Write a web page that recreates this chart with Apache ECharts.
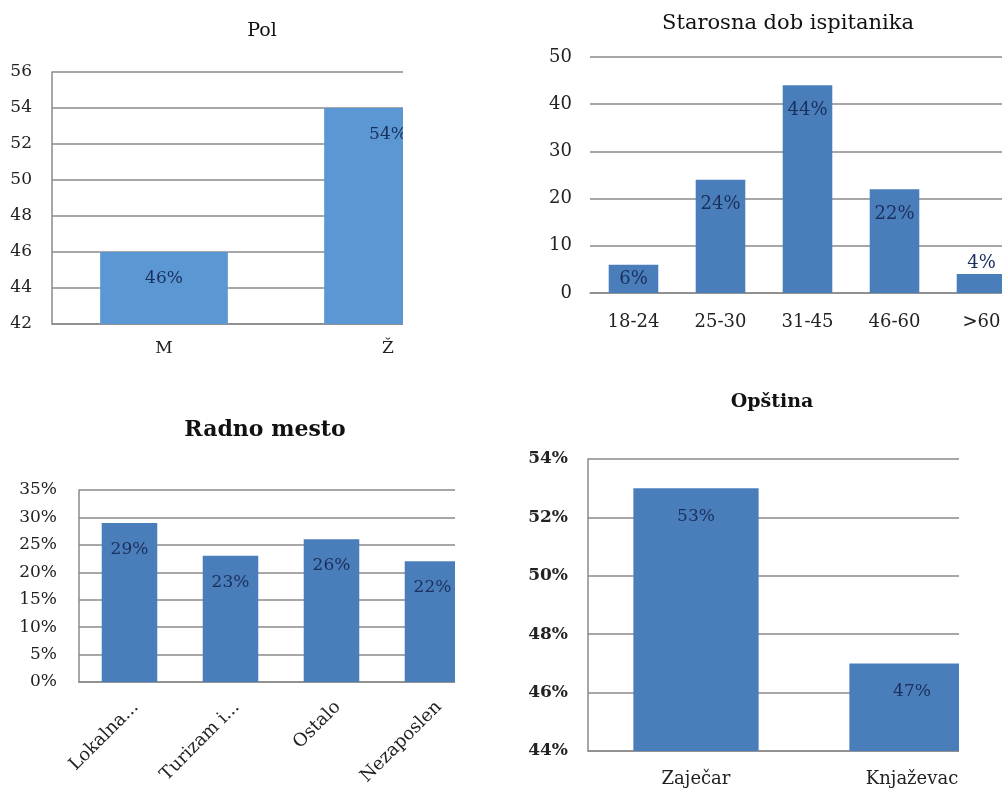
<!DOCTYPE html>
<html>
<head>
<meta charset="utf-8">
<script src="https://cdn.jsdelivr.net/npm/echarts@6/dist/echarts.min.js"></script>
<style>
  html, body { margin: 0; padding: 0; background: #fff; }
  body { width: 1002px; height: 789px; position: relative; overflow: hidden; }
  .panel { position: absolute; overflow: hidden; }
  .inner { position: absolute; left: 0; top: 0; }
</style>
</head>
<body>
<div class="panel" id="p1" style="left:0;top:0;width:403px;height:380px"><div class="inner" id="c1" style="width:520px;height:380px"></div></div>
<div class="panel" id="p2" style="left:500px;top:0;width:502px;height:380px"><div class="inner" id="c2" style="width:560px;height:380px"></div></div>
<div class="panel" id="p3" style="left:0;top:390px;width:455px;height:399px"><div class="inner" id="c3" style="width:520px;height:399px"></div></div>
<div class="panel" id="p4" style="left:500px;top:380px;width:459px;height:409px"><div class="inner" id="c4" style="width:560px;height:409px"></div></div>
<script>
// Pol
const polCategories = ['M', 'Ž'];
const polValues = [46, 54];

// Starosna dob ispitanika
const dobCategories = ['18-24', '25-30', '31-45', '46-60', '>60'];
const dobValues = [6, 24, 44, 22, 4];

// Radno mesto
const radnoCategories = ['Lokalna...', 'Turizam i...', 'Ostalo', 'Nezaposlen'];
const radnoValues = [29, 23, 26, 22];

// Opština
const opstinaCategories = ['Zaječar', 'Knjaževac'];
const opstinaValues = [53, 47];

const SERIF = '"DejaVu Serif", "Liberation Serif", serif';
const GRID_COLOR = '#8a8a8a';
const LABEL_COLOR = '#1b2f5c';

function barItems(values) {
  // short bars get their label centred or placed above the bar
  return values.map(v => {
    if (v < 5) return { value: v, label: { position: 'top', distance: 2 } };
    if (v < 10) return { value: v, label: { position: 'inside' } };
    return v;
  });
}

function makeChart(el, cfg) {
  const chart = echarts.init(document.getElementById(el), null, { renderer: 'canvas' });
  chart.setOption({
    animation: false,
    backgroundColor: '#fff',
    title: {
      text: cfg.title,
      left: cfg.titleX,
      top: cfg.titleY,
      textAlign: 'center',
      textStyle: { fontFamily: SERIF, fontSize: cfg.titleSize, fontWeight: cfg.titleWeight, color: '#111' }
    },
    grid: cfg.grid,
    xAxis: {
      type: 'category',
      data: cfg.categories,
      axisLine: { show: true, lineStyle: { color: GRID_COLOR, width: 1.5 } },
      axisTick: { show: false },
      axisLabel: Object.assign({
        fontFamily: SERIF, fontSize: cfg.xFontSize, color: '#222', margin: cfg.xMargin, interval: 0
      }, cfg.xLabelExtra || {})
    },
    yAxis: {
      type: 'value',
      min: cfg.min, max: cfg.max, interval: cfg.interval,
      axisLine: { show: cfg.yAxisLine, lineStyle: { color: GRID_COLOR, width: 1.5 } },
      axisTick: { show: false },
      splitLine: { show: true, lineStyle: { color: GRID_COLOR, width: 1.5 } },
      axisLabel: {
        fontFamily: SERIF, fontSize: cfg.yFontSize, fontWeight: cfg.yWeight || 'normal',
        color: '#222', margin: cfg.yMargin,
        formatter: cfg.yFormatter
      }
    },
    series: [{
      type: 'bar',
      data: barItems(cfg.values),
      barWidth: cfg.barWidth,
      itemStyle: { color: cfg.color },
      label: {
        show: true,
        position: 'insideTop',
        distance: cfg.labelDistance,
        formatter: '{c}%',
        fontFamily: SERIF,
        fontSize: cfg.labelSize,
        color: LABEL_COLOR
      }
    }]
  });
}

makeChart('c1', {
  title: 'Pol', titleX: 257, titleY: 17, titleSize: 19, titleWeight: 'normal',
  grid: { left: 52, top: 72, width: 448, height: 252 },
  categories: polCategories, values: polValues,
  min: 42, max: 56, interval: 2, yAxisLine: true,
  yFormatter: '{value}', yFontSize: 17, yMargin: 20, xFontSize: 17, xMargin: 16,
  barWidth: '57%', color: '#5b97d3', labelSize: 17, labelDistance: 18
});

makeChart('c2', {
  title: 'Starosna dob ispitanika', titleX: 283, titleY: 8, titleSize: 21, titleWeight: 'normal',
  grid: { left: 90, top: 57, width: 435, height: 236 },
  categories: dobCategories, values: dobValues,
  min: 0, max: 50, interval: 10, yAxisLine: false,
  yFormatter: '{value}', yFontSize: 18, yMargin: 18, xFontSize: 18, xMargin: 20,
  barWidth: '57%', color: '#4a7ebb', labelSize: 18, labelDistance: 16
});

makeChart('c3', {
  title: 'Radno mesto', titleX: 260, titleY: 24, titleSize: 22, titleWeight: 'bold',
  grid: { left: 79, top: 100, width: 404, height: 192 },
  categories: radnoCategories, values: radnoValues,
  min: 0, max: 35, interval: 5, yAxisLine: true,
  yFormatter: '{value}%', yFontSize: 17, yMargin: 22, xFontSize: 18, xMargin: 16,
  xLabelExtra: { rotate: 45, verticalAlign: 'top' },
  barWidth: '55%', color: '#4a7ebb', labelSize: 17, labelDistance: 18
});

makeChart('c4', {
  title: 'Opština', titleX: 267, titleY: 8, titleSize: 19, titleWeight: 'bold',
  grid: { left: 88, top: 79, width: 432, height: 292 },
  categories: opstinaCategories, values: opstinaValues,
  min: 44, max: 54, interval: 2, yAxisLine: true,
  yFormatter: '{value}%', yFontSize: 17, yWeight: 'bold', yMargin: 20, xFontSize: 18, xMargin: 19,
  barWidth: '58%', color: '#4a7ebb', labelSize: 17, labelDistance: 20
});
</script>
</body>
</html>
